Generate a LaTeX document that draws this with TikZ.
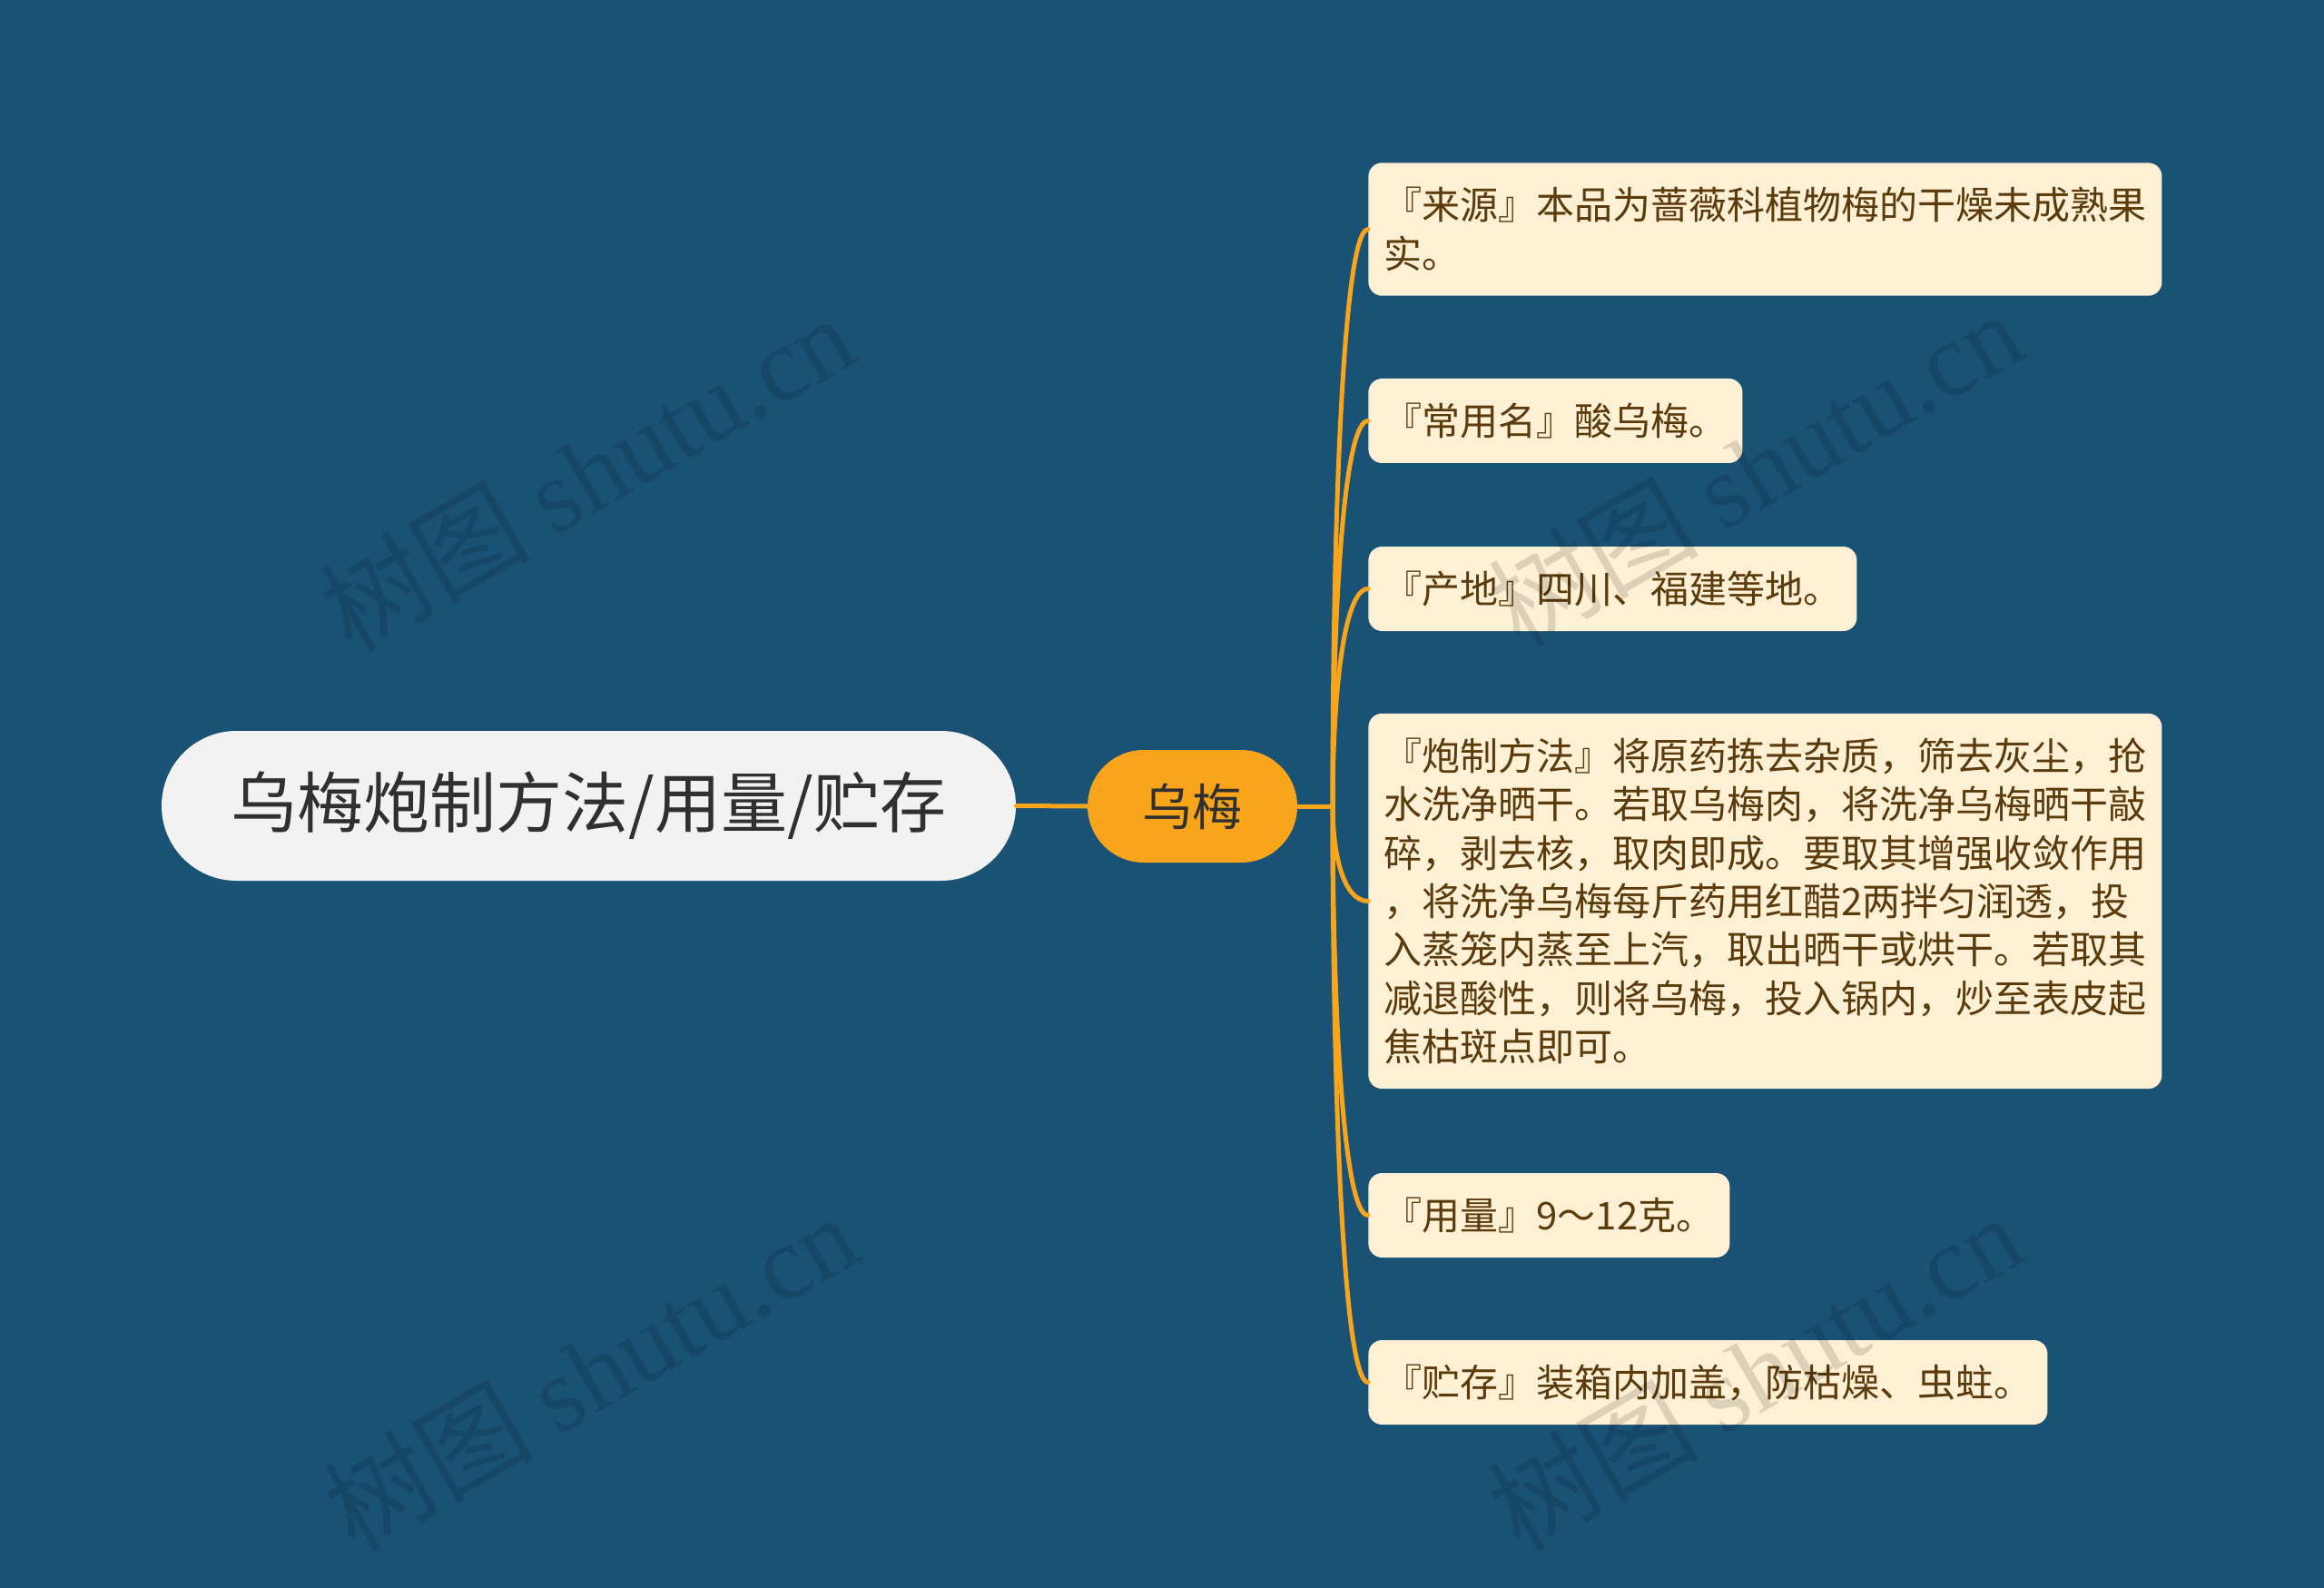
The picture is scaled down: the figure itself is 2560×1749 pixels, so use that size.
\documentclass[tikz,border=0pt]{standalone}
\usepackage{fontspec}
\setmainfont{Noto Sans CJK SC}
\newfontfamily\wmlatin{Liberation Serif}
\usetikzlibrary{calc,shapes.misc}
\definecolor{bgc}{HTML}{1A5276}
\definecolor{orangec}{HTML}{F8A51C}
\definecolor{leaffill}{HTML}{FDF0D5}
\definecolor{leaftext}{HTML}{5B3A0B}
\definecolor{rootfill}{HTML}{F2F2F2}
\definecolor{roottext}{HTML}{303030}
\begin{document}
\begin{tikzpicture}[x=0.5pt,y=-0.5pt,
  rootbox/.style={rounded rectangle, fill=rootfill, text=roottext, minimum width=470.5pt, minimum height=82.5pt, inner sep=0pt, font=\fontsize{36.5}{44}\selectfont},
  midbox/.style={rounded rectangle, fill=orangec, text=roottext, minimum width=115.5pt, minimum height=62pt, inner sep=0pt, font=\fontsize{27.5}{33}\selectfont},
  leafbox/.style={rectangle, rounded corners=7.5pt, fill=leaffill, text=leaftext, anchor=west, align=left, inner xsep=8.5pt, inner ysep=2pt, font=\fontsize{21}{26.7}\selectfont},
  oneline/.style={minimum height=46.5pt},
  twoline/.style={minimum height=73.2pt},
  sevenline/.style={minimum height=206.7pt},
  conn/.style={draw=orangec, line width=2.5pt, line cap=round},
  wm/.style={text=black, opacity=0.13, font=\fontsize{58}{66}\selectfont, inner sep=0pt}
]
\fill[bgc] (0,0) rectangle (2560,1749);
\useasboundingbox (0,0) rectangle (2560,1749);

\node[rootbox] (root) at (648.5,887.5) {乌梅炮制方法/用量/贮存};
\node[midbox] (mid) at (1313.5,888) {乌梅};

\node[leafbox,twoline] (L1) at (1507,252.5) {『来源』本品为蔷薇科植物梅的干燥未成熟果\\实。};
\node[leafbox,oneline] (L2) at (1507,463.5) {『常用名』酸乌梅。};
\node[leafbox,oneline] (L3) at (1507,648.5) {『产地』四川、福建等地。};
\node[leafbox,sevenline] (L4) at (1507,992.5) {『炮制方法』将原药拣去杂质，筛去灰尘，抢\\水洗净晒干。若取乌梅肉，将洗净乌梅晒干敲\\碎，剥去核，取肉即成。要取其增强收敛作用\\，将洗净乌梅每斤药用红醋2两拌匀润透，投\\入蒸笼内蒸至上汽，取出晒干或烘干。若取其\\减退酸性，则将乌梅，投入锅内，炒至表皮起\\焦枯斑点即可。};
\node[leafbox,oneline] (L5) at (1507,1338.5) {『用量』9～12克。};
\node[leafbox,oneline] (L6) at (1507,1522.5) {『贮存』装箱内加盖，防枯燥、虫蛀。};

\coordinate (br) at (1468,888);
\draw[conn] (root.east) -- (mid.west);
\draw[conn] (mid.east) -- (br);
\foreach \l in {L1,L2,L3,L4,L5,L6}{
  \draw[conn] (br) .. controls ($(br)!0.5!(br|-\l.west)$) and ($(br|-\l.west)!0.3!(\l.west)$) .. (\l.west);
}

\node[wm,rotate=30] (w1) at (646,520) {树图 {\wmlatin shutu.cn}};
\node[wm,rotate=30] (w2) at (650,1510) {树图 {\wmlatin shutu.cn}};
\node[wm,rotate=30] (w3) at (1933,515) {树图 {\wmlatin shutu.cn}};
\node[wm,rotate=30] (w4) at (1933,1510) {树图 {\wmlatin shutu.cn}};
\end{tikzpicture}
\end{document}
